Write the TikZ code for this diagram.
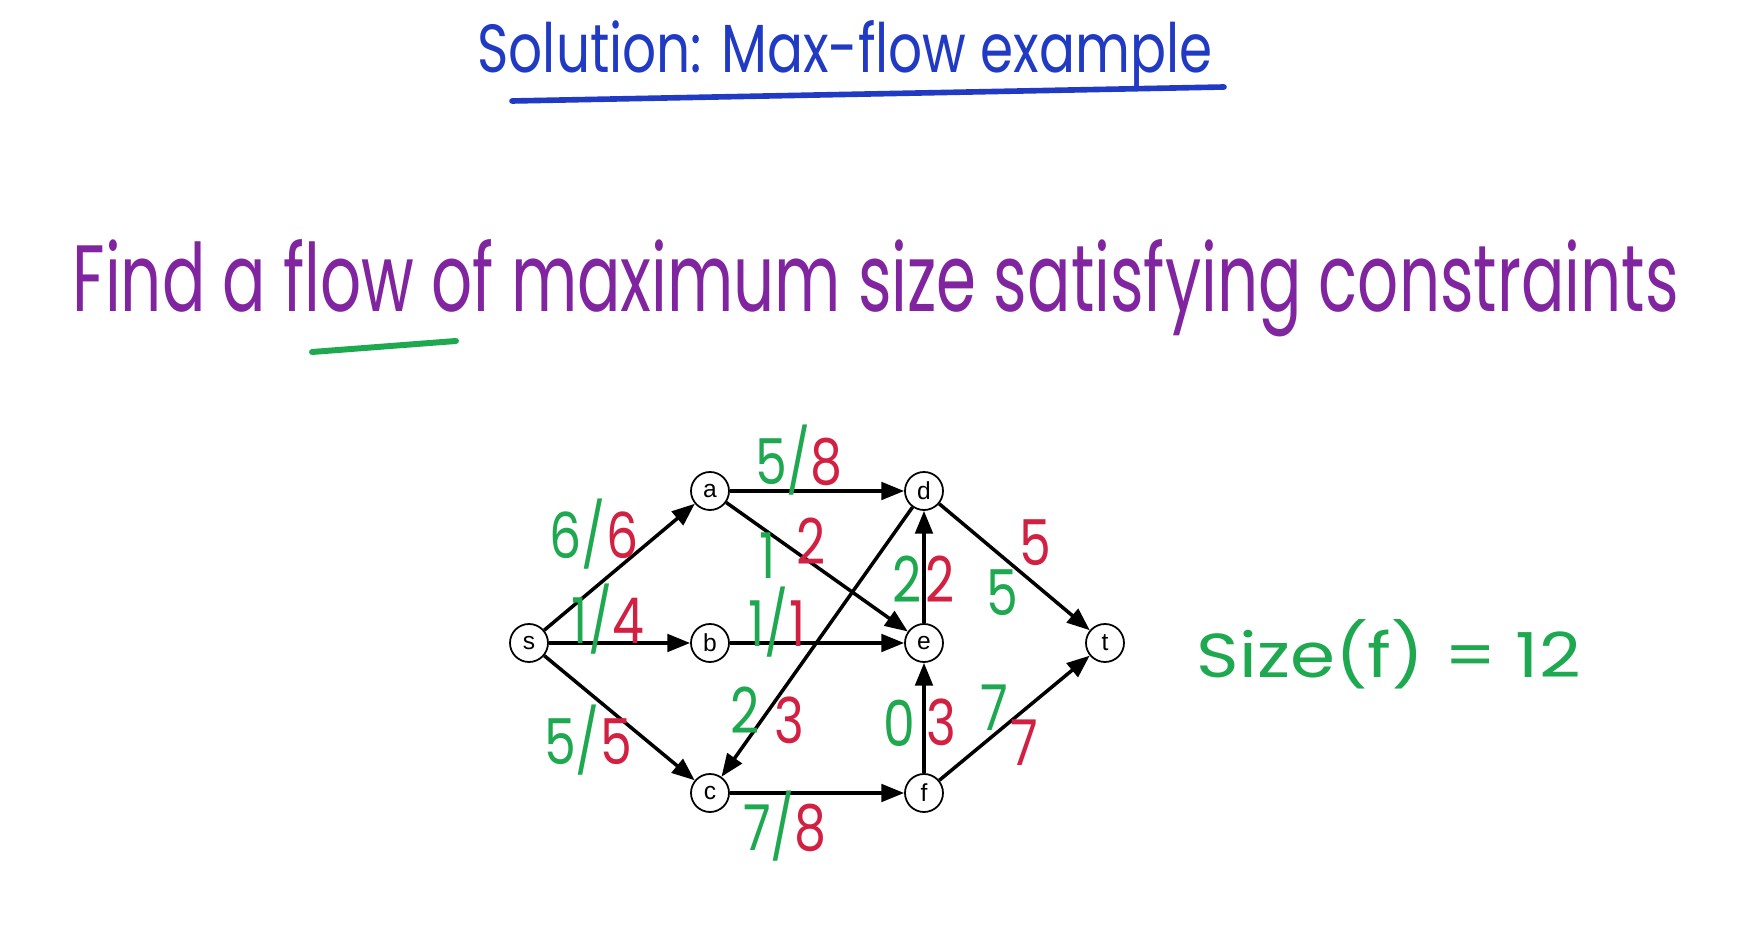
\documentclass[tikz,border=0pt]{standalone}
\usepackage{fontspec}
\setmainfont{Poppins}
\newfontfamily\nodefont{Liberation Sans}
\usepackage{xcolor}
\usepackage{tikz}
\usetikzlibrary{arrows.meta}

\definecolor{titleblue}{RGB}{32,58,196}
\definecolor{penpurple}{RGB}{128,36,160}
\definecolor{flowgreen}{RGB}{30,168,80}
\definecolor{capred}{RGB}{210,32,66}

% flow / capacity pair, narrowed like the handwriting
\newcommand{\fc}[2]{\scalebox{0.8}[1]{\textcolor{flowgreen}{#1/}\textcolor{capred}{#2}}}
\newcommand{\dg}[1]{\scalebox{0.8}[1]{#1}}

\begin{document}
\begin{tikzpicture}[
    vert/.style={circle, draw, line width=0.5pt, minimum size=0.38cm, inner sep=0pt,
        font=\nodefont\fontsize{7}{7}\selectfont},
    edge/.style={line width=1pt, -{Triangle[length=6.5pt,width=5pt]}},
    lab/.style={font=\fontsize{18}{18}\selectfont, inner sep=0pt}
]
\useasboundingbox (0,0) rectangle (17.45,9.29);

% Title
\node[titleblue, anchor=base, inner sep=0pt] (title) at (8.45,8.56)
    {\resizebox{7.35cm}{0.52cm}{Solution: Max-flow example}};
\draw[titleblue, line width=1.6pt, line cap=round] (5.12,8.28) -- (12.24,8.42);

% Problem statement
\node[penpurple, anchor=base west, inner sep=0pt] (task) at (0.72,6.17)
    {\resizebox{16.06cm}{0.72cm}{Find a flow of maximum size satisfying constraints}};
\draw[flowgreen, line width=1.7pt, line cap=round] (3.12,5.77) -- (4.56,5.88);

% Network
\node[vert] (s) at (5.29,2.86) {s};
\node[vert] (a) at (7.10,4.38) {a};
\node[vert] (b) at (7.10,2.86) {b};
\node[vert] (c) at (7.10,1.36) {c};
\node[vert] (d) at (9.24,4.38) {d};
\node[vert] (e) at (9.24,2.86) {e};
\node[vert] (f) at (9.24,1.36) {f};
\node[vert] (t) at (11.05,2.86) {t};

\draw[edge] (s) -- (a);
\draw[edge] (s) -- (b);
\draw[edge] (s) -- (c);
\draw[edge] (a) -- (d);
\draw[edge] (a) -- (e);
\draw[edge] (b) -- (e);
\draw[edge] (d) -- (c);
\draw[edge] (e) -- (d);
\draw[edge] (d) -- (t);
\draw[edge] (c) -- (f);
\draw[edge] (f) -- (e);
\draw[edge] (f) -- (t);

% Flow / capacity labels
\node[lab] (l-sa) at (5.94,3.95) {\fc{6}{6}};
\node[lab] (l-sb) at (6.08,3.10) {\fc{1}{4}};
\node[lab] (l-sc) at (5.88,1.89) {\fc{5}{5}};
\node[lab] (l-ad) at (7.99,4.69) {\fc{5}{8}};
\node[lab, flowgreen] (f-ae) at (7.68,3.73) {\dg{1}};
\node[lab, capred] (c-ae) at (8.11,3.88) {\dg{2}};
\node[lab] (l-be) at (7.77,3.07) {\fc{1}{1}};
\node[lab, flowgreen] (f-dc) at (7.45,2.19) {\dg{2}};
\node[lab, capred] (c-dc) at (7.89,2.09) {\dg{3}};
\node[lab, flowgreen] (f-ed) at (9.07,3.50) {\dg{2}};
\node[lab, capred] (c-ed) at (9.40,3.50) {\dg{2}};
\node[lab, capred] (c-dt) at (10.35,3.86) {\dg{5}};
\node[lab, flowgreen] (f-dt) at (10.02,3.36) {\dg{5}};
\node[lab, flowgreen] (f-fe) at (8.99,2.06) {\dg{0}};
\node[lab, capred] (c-fe) at (9.41,2.07) {\dg{3}};
\node[lab, flowgreen] (f-ft) at (9.94,2.21) {\dg{7}};
\node[lab, capred] (c-ft) at (10.24,1.86) {\dg{7}};
\node[lab] (l-cf) at (7.85,1.03) {\fc{7}{8}};

% Result
\node[flowgreen, anchor=base west, inner sep=0pt] (size) at (11.96,2.51)
    {\resizebox{3.84cm}{0.58cm}{Size(f) = 12}};
\end{tikzpicture}
\end{document}
